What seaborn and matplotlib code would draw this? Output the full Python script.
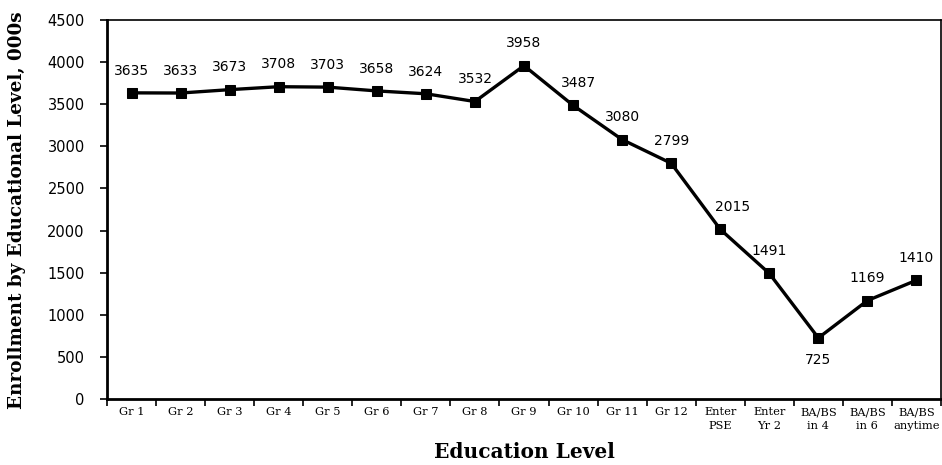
import matplotlib
matplotlib.use("Agg")
import matplotlib.pyplot as plt
import seaborn as sns
import pandas as pd

# Education levels and enrollment (thousands)
levels = ["Gr 1", "Gr 2", "Gr 3", "Gr 4", "Gr 5", "Gr 6", "Gr 7", "Gr 8", "Gr 9",
          "Gr 10", "Gr 11", "Gr 12", "Enter\nPSE", "Enter\nYr 2",
          "BA/BS\nin 4", "BA/BS\nin 6", "BA/BS\nanytime"]
enrollment = [3635, 3633, 3673, 3708, 3703, 3658, 3624, 3532, 3958,
              3487, 3080, 2799, 2015, 1491, 725, 1169, 1410]
y_ticks = [0, 500, 1000, 1500, 2000, 2500, 3000, 3500, 4000, 4500]

df = pd.DataFrame({"pos": range(len(levels)), "level": levels, "value": enrollment})

sns.set_style("white")
plt.rcParams["font.family"] = ["DejaVu Sans"]
plt.rcParams["text.color"] = "black"
plt.rcParams["axes.labelcolor"] = "black"
plt.rcParams["xtick.color"] = "black"
plt.rcParams["ytick.color"] = "black"

fig = plt.figure(figsize=(9.42, 4.65), dpi=100)
ax = fig.add_axes([107 / 942, 66 / 465, 834 / 942, 379 / 465])

sns.lineplot(data=df, x="pos", y="value", ax=ax, color="black", linewidth=2.4,
             marker="s", markersize=7, markeredgecolor="black", markerfacecolor="black")

# value labels: above each point, below the trough; a few nudged sideways
side_nudge = {9: 3.6, 12: 8.6}
for x, v in zip(df["pos"], df["value"]):
    dy = -16 if v < 1000 else 16
    ax.annotate(f"{v}", (x, v), xytext=(side_nudge.get(x, 0), dy),
                textcoords="offset points", ha="center", va="center",
                fontsize=10, color="black")

ax.set_xlim(-0.5, len(levels) - 0.5)
ax.set_ylim(0, 4500)
ax.set_yticks(y_ticks)
ax.set_yticklabels([str(t) for t in y_ticks], fontsize=10.5)

ax.set_xticks(range(len(levels)))
ax.set_xticklabels(levels, fontsize=8.2, family="DejaVu Serif", linespacing=1.5)
ax.set_xticks([i - 0.5 for i in range(len(levels) + 1)], minor=True)
ax.tick_params(axis="x", which="major", length=0, pad=6)
ax.tick_params(axis="x", which="minor", length=5, width=1.2, direction="out", bottom=True)
ax.tick_params(axis="y", length=5, width=1.2, direction="out", left=True, pad=11)

for side, spine in ax.spines.items():
    spine.set_visible(True)
    spine.set_color("black")
    spine.set_linewidth(2.0 if side in ("left", "bottom") else 1.2)

ax.set_xlabel("Education Level", fontsize=14.5, fontweight="bold", family="DejaVu Serif")
ax.set_ylabel("Enrollment by Educational Level, 000s", fontsize=13.2,
              fontweight="bold", family="DejaVu Serif")
ax.xaxis.set_label_coords(0.5, (465 - 452 - 66) / 379, transform=ax.transAxes)
ax.xaxis.label.set_va("center")
ax.yaxis.set_label_coords((17 - 107) / 834, (465 - 210 - 66) / 379, transform=ax.transAxes)
ax.yaxis.label.set_va("center")

fig.savefig("out.png", dpi=100)
